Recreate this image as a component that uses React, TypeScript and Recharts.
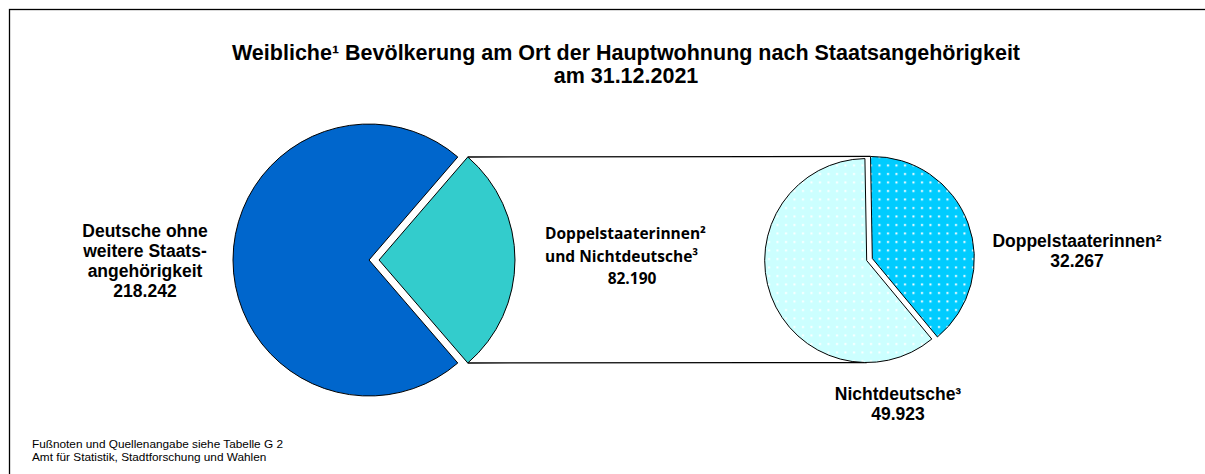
import { PieChart, Pie, Cell } from 'recharts';

// Weibliche Bevölkerung am Ort der Hauptwohnung, 31.12.2021
const mainNames = ['Deutsche ohne weitere Staatsangehörigkeit', 'Doppelstaaterinnen und Nichtdeutsche'];
const mainValues = [218242, 82190];
const detailNames = ['Doppelstaaterinnen', 'Nichtdeutsche'];
const detailValues = [32267, 49923];

const mainData = mainNames.map((name, i) => ({ name, value: mainValues[i] }));
const detailData = detailNames.map((name, i) => ({ name, value: detailValues[i] }));

const fmt = (v: number) => String(v).replace(/\B(?=(\d{3})+(?!\d))/g, '.');

const W = 1205;
const H = 474;
const ARIAL = '"Liberation Sans", Arial, sans-serif';
const rad = (a: number) => (a * Math.PI) / 180;

// big pie: the second slice is centred on 0° and pulled out to the right
const mainTotal = mainValues[0] + mainValues[1];
const half = (180 * mainValues[1]) / mainTotal;
const big = { cx: 369, cy: 260, r: 136, explode: 10 };

// small pie, both slices slightly exploded
const detailTotal = detailValues[0] + detailValues[1];
const smallStart = 91;
const small = { cx: 869.5, cy: 259.5, r: 102, explode: 3 };
const spanA = (360 * detailValues[0]) / detailTotal;
const midA = smallStart - spanA / 2;
const midB = smallStart - spanA - (360 - spanA) / 2;
const aCx = small.cx + small.explode * Math.cos(rad(midA));
const aCy = small.cy - small.explode * Math.sin(rad(midA));
const bCx = small.cx + small.explode * Math.cos(rad(midB));
const bCy = small.cy - small.explode * Math.sin(rad(midB));

const tealX = big.cx + big.explode + big.r * Math.cos(rad(half));
const tealTop = big.cy - big.r * Math.sin(rad(half));
const tealBottom = big.cy + big.r * Math.sin(rad(half));

const hidden = <Cell fill="none" stroke="none" />;

export default function App() {
  return (
    <div style={{ position: 'absolute', left: 0, top: 0, width: W, height: H, background: '#fff' }}>
      <PieChart width={W} height={H} margin={{ top: 0, right: 0, bottom: 0, left: 0 }}>
        <defs>
          <pattern id="dotsCyan" width={8.5} height={8.5} patternUnits="userSpaceOnUse">
            <rect width={8.5} height={8.5} fill="#00CCFF" />
            <rect x={3} y={3} width={2} height={2} fill="#fff" />
          </pattern>
          <pattern id="dotsLight" width={8.5} height={8.5} patternUnits="userSpaceOnUse">
            <rect width={8.5} height={8.5} fill="#CCFFFF" />
            <rect x={3} y={3} width={2} height={2} fill="#fff" />
          </pattern>
        </defs>
        <rect x={9.5} y={9.5} width={W + 20} height={H + 20} fill="none" stroke="#000" strokeWidth={1.3} />

        <text x={626} y={60} textAnchor="middle" fontFamily={ARIAL} fontSize={21.5} fontWeight="bold" fill="#000">
          Weibliche¹ Bevölkerung am Ort der Hauptwohnung nach Staatsangehörigkeit
        </text>
        <text x={626} y={83} textAnchor="middle" fontFamily={ARIAL} fontSize={21.5} fontWeight="bold" fill="#000">
          am 31.12.2021
        </text>

        {/* connector lines */}
        <line x1={tealX} y1={tealTop} x2={aCx + small.r * Math.cos(rad(smallStart))} y2={aCy - small.r * Math.sin(rad(smallStart))} stroke="#000" strokeWidth={1.3} />
        <line x1={tealX} y1={tealBottom} x2={bCx} y2={bCy + small.r} stroke="#000" strokeWidth={1.3} />

        <Pie
          data={mainData}
          dataKey="value"
          cx={big.cx}
          cy={big.cy}
          outerRadius={big.r}
          startAngle={half}
          endAngle={half + 360}
          stroke="#000"
          strokeWidth={1}
          isAnimationActive={false}
        >
          <Cell fill="#0066CC" />
          {hidden}
        </Pie>
        <Pie
          data={mainData}
          dataKey="value"
          cx={big.cx + big.explode}
          cy={big.cy}
          outerRadius={big.r}
          startAngle={half}
          endAngle={half + 360}
          stroke="#000"
          strokeWidth={1}
          isAnimationActive={false}
        >
          {hidden}
          <Cell fill="#33CCCC" />
        </Pie>

        <Pie
          data={detailData}
          dataKey="value"
          cx={aCx}
          cy={aCy}
          outerRadius={small.r}
          startAngle={smallStart}
          endAngle={smallStart - 360}
          stroke="#000"
          strokeWidth={1}
          isAnimationActive={false}
        >
          <Cell fill="url(#dotsCyan)" />
          {hidden}
        </Pie>
        <Pie
          data={detailData}
          dataKey="value"
          cx={bCx}
          cy={bCy}
          outerRadius={small.r}
          startAngle={smallStart}
          endAngle={smallStart - 360}
          stroke="#000"
          strokeWidth={1}
          isAnimationActive={false}
        >
          {hidden}
          <Cell fill="url(#dotsLight)" />
        </Pie>

        {/* labels */}
        <text textAnchor="middle" fontFamily={ARIAL} fontSize={17.5} fontWeight="bold" fill="#000">
          <tspan x={145} y={237}>Deutsche ohne</tspan>
          <tspan x={145} y={257}>weitere Staats-</tspan>
          <tspan x={145} y={277}>angehörigkeit</tspan>
          <tspan x={145} y={297}>{fmt(mainValues[0])}</tspan>
        </text>
        <text fontFamily="'Open Sans', Lato, sans-serif" fontSize={15.5} fontWeight="bold" fill="#000">
          <tspan x={545} y={239}>Doppelstaaterinnen²</tspan>
          <tspan x={545} y={262}>und Nichtdeutsche³</tspan>
          <tspan x={632} y={284} textAnchor="middle">{fmt(mainValues[1])}</tspan>
        </text>
        <text textAnchor="middle" fontFamily={ARIAL} fontSize={17.5} fontWeight="bold" fill="#000">
          <tspan x={1077} y={247}>Doppelstaaterinnen²</tspan>
          <tspan x={1077} y={267}>{fmt(detailValues[0])}</tspan>
        </text>
        <text textAnchor="middle" fontFamily={ARIAL} fontSize={17.5} fontWeight="bold" fill="#000">
          <tspan x={898} y={400}>Nichtdeutsche³</tspan>
          <tspan x={898} y={420}>{fmt(detailValues[1])}</tspan>
        </text>

        <text fontFamily={ARIAL} fontSize={11.8} fill="#000">
          <tspan x={32} y={448}>Fußnoten und Quellenangabe siehe Tabelle G 2</tspan>
          <tspan x={32} y={461}>Amt für Statistik, Stadtforschung und Wahlen</tspan>
        </text>
      </PieChart>
    </div>
  );
}
